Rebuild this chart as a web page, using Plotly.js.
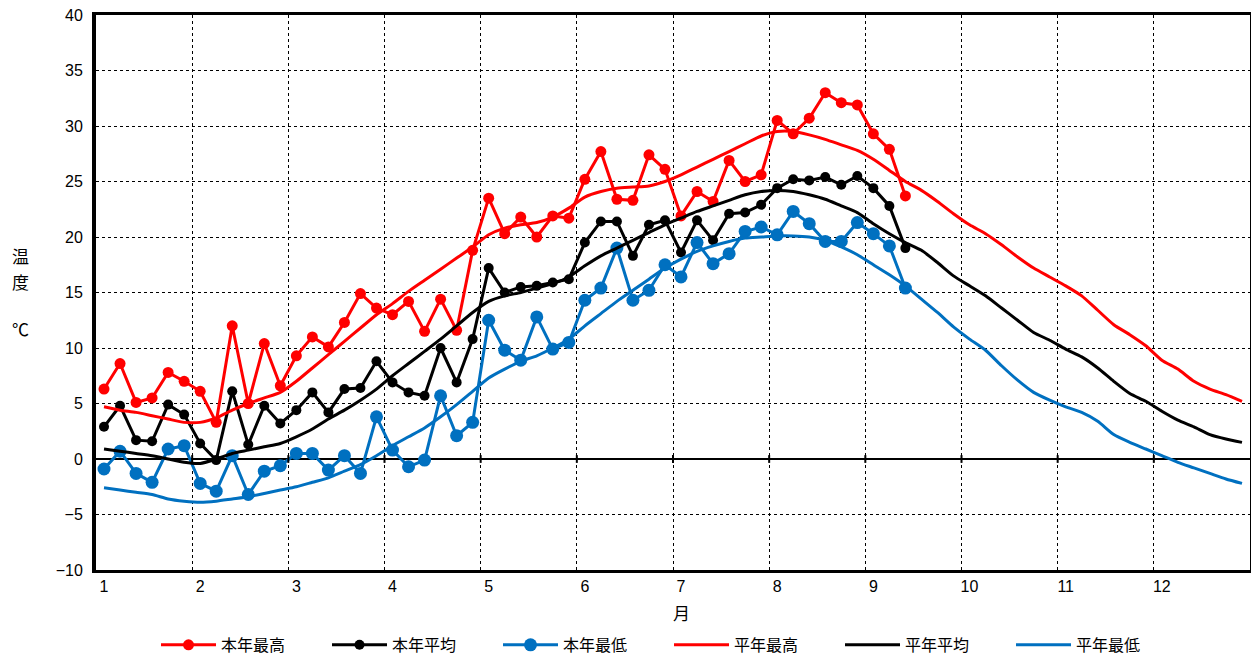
<!DOCTYPE html>
<html>
<head>
<meta charset="utf-8">
<script src="https://cdn.plot.ly/plotly-3.0.1.min.js"></script>
<style>html,body{margin:0;padding:0;background:#fff;}#chart{width:1251px;height:662px;}</style>
</head>
<body>
<div id="chart"></div>
<script>
// Month labels (tick at first pentad of each month)
const monthLabels = ['1','2','3','4','5','6','7','8','9','10','11','12'];

// 本年 (this year), 5-day (pentad) values
const thisMax = [6.3,8.6,5.1,5.5,7.8,7.0,6.1,3.3,12.0,5.0,10.4,6.6,9.3,11.0,10.1,12.3,14.9,13.6,13.0,14.2,
  11.5,14.4,11.6,18.8,23.5,20.3,21.8,20.0,21.9,21.7,25.2,27.7,23.4,23.3,27.4,26.1,21.9,24.1,23.2,26.9,
  25.0,25.6,30.5,29.3,30.7,33.0,32.1,31.9,29.3,27.9,23.7];
const thisAvg = [2.9,4.8,1.7,1.6,4.9,4.0,1.4,-0.1,6.1,1.3,4.8,3.2,4.4,6.0,4.2,6.3,6.4,8.8,6.9,6.0,
  5.7,10.0,6.9,10.8,17.2,15.0,15.5,15.6,15.9,16.2,19.5,21.4,21.4,18.3,21.1,21.5,18.6,21.5,19.7,22.1,
  22.2,22.9,24.4,25.2,25.1,25.4,24.7,25.5,24.4,22.8,19.0];
const thisMin = [-0.9,0.7,-1.3,-2.1,0.9,1.2,-2.2,-2.9,0.3,-3.2,-1.1,-0.6,0.5,0.5,-1.0,0.3,-1.3,3.8,0.8,-0.7,
  -0.1,5.7,2.1,3.3,12.5,9.8,8.9,12.8,9.9,10.5,14.3,15.4,19.0,14.3,15.2,17.5,16.4,19.5,17.6,18.5,
  20.5,20.9,20.2,22.3,21.2,19.6,19.6,21.3,20.3,19.2,15.4];

// 平年 (normal) values, 72 pentads
const normMax = [4.7,4.4,4.2,3.9,3.6,3.3,3.3,3.7,4.4,5.0,5.5,6.0,7.0,8.2,9.4,10.6,11.8,13.0,14.0,15.1,
  16.1,17.1,18.1,19.1,20.2,20.8,21.1,21.3,21.8,22.6,23.6,24.1,24.4,24.5,24.6,25.0,25.6,26.3,27.0,27.7,
  28.4,29.1,29.5,29.5,29.2,28.8,28.3,27.8,27.0,26.0,25.0,24.2,23.2,22.1,21.1,20.3,19.3,18.2,17.2,16.4,
  15.6,14.7,13.4,12.1,11.2,10.2,8.9,8.1,7.0,6.3,5.8,5.2];
const normAvg = [0.9,0.7,0.5,0.3,0.0,-0.3,-0.4,0.0,0.5,0.8,1.1,1.4,2.0,2.7,3.6,4.4,5.3,6.3,7.5,8.6,
  9.7,10.8,12.0,13.2,14.2,14.7,15.0,15.4,15.8,16.4,17.4,18.3,19.0,19.7,20.4,21.1,21.7,22.3,22.8,23.3,
  23.8,24.1,24.2,24.1,23.8,23.4,22.8,22.2,21.2,20.3,19.5,18.8,17.7,16.5,15.6,14.7,13.6,12.5,11.4,10.7,
  9.9,9.2,8.2,7.0,5.9,5.2,4.3,3.5,2.9,2.2,1.8,1.5];
const normMin = [-2.6,-2.8,-3.0,-3.2,-3.6,-3.8,-3.9,-3.8,-3.6,-3.4,-3.1,-2.8,-2.5,-2.1,-1.7,-1.1,-0.5,0.3,1.2,2.0,
  2.8,3.8,4.9,6.1,7.3,8.1,8.8,9.3,10.0,10.8,12.0,13.1,14.2,15.2,16.2,17.2,18.0,18.7,19.2,19.6,
  19.9,20.0,20.1,20.1,20.0,19.7,19.1,18.4,17.5,16.6,15.6,14.4,13.2,11.9,10.8,9.8,8.4,7.1,6.0,5.3,
  4.7,4.2,3.4,2.2,1.5,0.9,0.3,-0.3,-0.8,-1.3,-1.8,-2.2];

const seriesNames = ['本年最高','本年平均','本年最低','平年最高','平年平均','平年最低'];

const RED = '#ff0000', BLACK = '#000000', BLUE = '#0070c0';
const idx = n => Array.from({length: n}, (_, i) => i);
const PER_MONTH = 6;

const traces = [
  {x: idx(thisMax.length), y: thisMax, name: seriesNames[0], mode: 'lines+markers',
   line: {color: RED, width: 3}, marker: {color: RED, size: 11}},
  {x: idx(thisAvg.length), y: thisAvg, name: seriesNames[1], mode: 'lines+markers',
   line: {color: BLACK, width: 3}, marker: {color: BLACK, size: 10}},
  {x: idx(thisMin.length), y: thisMin, name: seriesNames[2], mode: 'lines+markers',
   line: {color: BLUE, width: 3}, marker: {color: BLUE, size: 13}},
  {x: idx(normMax.length), y: normMax, name: seriesNames[3], mode: 'lines',
   line: {color: RED, width: 3, shape: 'spline', smoothing: 0.6}},
  {x: idx(normAvg.length), y: normAvg, name: seriesNames[4], mode: 'lines',
   line: {color: BLACK, width: 3, shape: 'spline', smoothing: 0.6}},
  {x: idx(normMin.length), y: normMin, name: seriesNames[5], mode: 'lines',
   line: {color: BLUE, width: 3, shape: 'spline', smoothing: 0.6}}
];

const tickvals = monthLabels.map((_, k) => k * PER_MONTH);
const monthStarts = monthLabels.map((_, k) => k * PER_MONTH - 0.5);

const shapes = monthStarts.slice(1).map(v => ({
  type: 'line', xref: 'x', yref: 'y', x0: v, x1: v, y0: -0.35, y1: 0.35,
  line: {color: BLACK, width: 2}
}));

const JP = '"Noto Sans CJK JP", "Noto Sans", sans-serif';
const NUM = '"Liberation Sans", Arial, sans-serif';

const layout = {
  width: 1251, height: 662,
  margin: {l: 96, r: 1, t: 15, b: 92, autoexpand: false},
  paper_bgcolor: '#fff', plot_bgcolor: '#fff',
  showlegend: true,
  font: {family: NUM, size: 16, color: '#000'},
  xaxis: {
    range: [-0.5, 71.5], tickvals: tickvals, ticktext: monthLabels,
    showgrid: false, zeroline: false, ticks: '',
    showline: true, linecolor: '#000', linewidth: 3, mirror: true,
    tickfont: {family: NUM, size: 16},
    minor: {tickvals: monthStarts, showgrid: true, gridcolor: '#000', griddash: 'dot', gridwidth: 1, ticks: ''}
  },
  yaxis: {
    range: [-10, 40], dtick: 5, tick0: 0,
    showgrid: true, gridcolor: '#000', griddash: 'dot', gridwidth: 1,
    zeroline: true, zerolinecolor: '#000', zerolinewidth: 2,
    showline: true, linecolor: '#000', linewidth: 4, mirror: true, ticks: '',
    tickfont: {family: NUM, size: 16}, ticklabelstandoff: 6
  },
  legend: {
    orientation: 'h', x: 0.052, xanchor: 'left', y: -0.135, yanchor: 'middle',
    font: {family: JP, size: 16}, entrywidth: 101, entrywidthmode: 'pixels',
    itemwidth: 55, tracegroupgap: 0
  },
  shapes: shapes,
  annotations: [
    {text: '温', xref: 'paper', yref: 'paper', x: 0, xshift: -76, y: (570 - 255) / 555,
     xanchor: 'center', yanchor: 'middle', showarrow: false, font: {family: JP, size: 17}},
    {text: '度', xref: 'paper', yref: 'paper', x: 0, xshift: -76, y: (570 - 281) / 555,
     xanchor: 'center', yanchor: 'middle', showarrow: false, font: {family: JP, size: 17}},
    {text: '℃', xref: 'paper', yref: 'paper', x: 0, xshift: -76, y: (570 - 328) / 555,
     xanchor: 'center', yanchor: 'middle', showarrow: false, font: {family: JP, size: 17}},
    {text: '月', xref: 'x', yref: 'paper', x: 36, y: -0.076,
     xanchor: 'center', yanchor: 'middle', showarrow: false, font: {family: JP, size: 17}}
  ]
};

Plotly.newPlot('chart', traces, layout, {displayModeBar: false, staticPlot: true});
</script>
</body>
</html>
